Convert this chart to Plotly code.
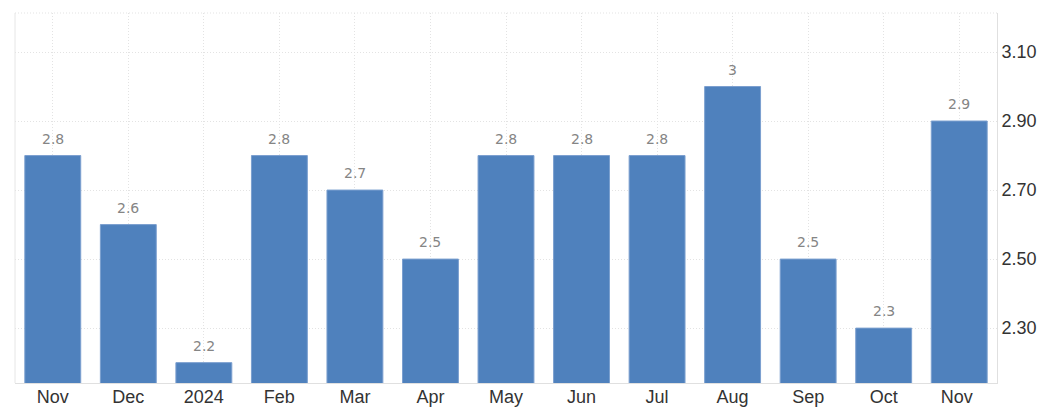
import plotly.graph_objects as go

categories = ["Nov", "Dec", "2024", "Feb", "Mar", "Apr", "May", "Jun", "Jul", "Aug", "Sep", "Oct", "Nov "]
values = [2.8, 2.6, 2.2, 2.8, 2.7, 2.5, 2.8, 2.8, 2.8, 3.0, 2.5, 2.3, 2.9]
labels = ["2.8", "2.6", "2.2", "2.8", "2.7", "2.5", "2.8", "2.8", "2.8", "3", "2.5", "2.3", "2.9"]
y_ticks = [2.3, 2.5, 2.7, 2.9, 3.1]
y_tick_text = ["2.30", "2.50", "2.70", "2.90", "3.10"]

fig = go.Figure(go.Bar(
    x=categories, y=values,
    marker=dict(color="#4f81bd", line=dict(color="#7b9fcf", width=1)),
    hoverinfo="skip",
))

annotations = [
    dict(x=i, y=v, text=t, xref="x", yref="y", showarrow=False,
         yanchor="bottom", yshift=7,
         font=dict(family="DejaVu Sans", size=14, color="#858585"))
    for i, (v, t) in enumerate(zip(values, labels))
]

fig.update_layout(
    width=1050, height=420,
    margin=dict(l=15, r=53, t=13, b=37),
    paper_bgcolor="white", plot_bgcolor="white",
    bargap=0.26, showlegend=False,
    annotations=annotations,
    xaxis=dict(
        type="category",
        showgrid=True, gridcolor="#e3e3e3", griddash="1px,2px", gridwidth=1,
        showline=True, linecolor="#e0e0e0", linewidth=1,
        tickfont=dict(family="Liberation Sans, Arial", size=18, color="#333333"),
        ticks="", ticklabelstandoff=-3, fixedrange=True,
    ),
    yaxis=dict(
        side="right", range=[2.141, 3.213],
        tickvals=y_ticks, ticktext=y_tick_text,
        showgrid=True, gridcolor="#e3e3e3", griddash="1px,2px", gridwidth=1,
        showline=True, linecolor="#e0e0e0", linewidth=1,
        tickfont=dict(family="Liberation Sans, Arial", size=18, color="#333333"),
        ticks="", zeroline=False, fixedrange=True,
    ),
    shapes=[
        dict(type="line", xref="paper", yref="paper", x0=0, x1=1, y0=1, y1=1,
             line=dict(color="#e3e3e3", width=1, dash="1px,2px")),
        dict(type="line", xref="paper", yref="paper", x0=0, x1=0, y0=0, y1=1,
             line=dict(color="#e6e6e6", width=1)),
    ],
)

fig.write_html("out.html")
